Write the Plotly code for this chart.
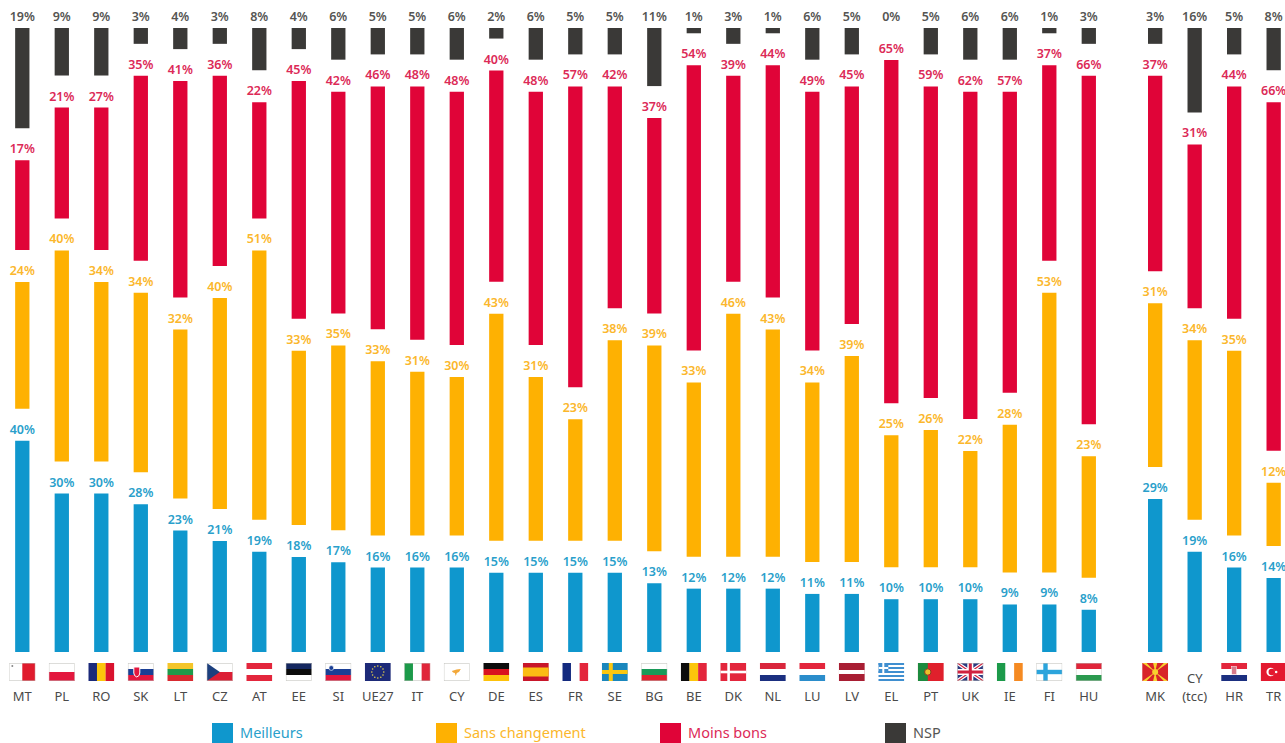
import base64
import math

import numpy as np
import plotly.graph_objects as go

countries = ["MT", "PL", "RO", "SK", "LT", "CZ", "AT", "EE", "SI", "UE27", "IT", "CY", "DE", "ES", "FR", "SE",
             "BG", "BE", "DK", "NL", "LU", "LV", "EL", "PT", "UK", "IE", "FI", "HU",
             "MK", "(tcc)", "HR", "TR"]
meilleurs = [40, 30, 30, 28, 23, 21, 19, 18, 17, 16, 16, 16, 15, 15, 15, 15,
             13, 12, 12, 12, 11, 11, 10, 10, 10, 9, 9, 8,
             29, 19, 16, 14]
sans_changement = [24, 40, 34, 34, 32, 40, 51, 33, 35, 33, 31, 30, 43, 31, 23, 38,
                   39, 33, 46, 43, 34, 39, 25, 26, 22, 28, 53, 23,
                   31, 34, 35, 12]
moins_bons = [17, 21, 27, 35, 41, 36, 22, 45, 42, 46, 48, 48, 40, 48, 57, 42,
              37, 54, 39, 44, 49, 45, 65, 59, 62, 57, 37, 66,
              37, 31, 44, 66]
nsp = [19, 9, 9, 3, 4, 3, 8, 4, 6, 5, 5, 6, 2, 6, 5, 5,
       11, 1, 3, 1, 6, 5, 0, 5, 6, 6, 1, 3,
       3, 16, 5, 8]

series_names = ["Meilleurs", "Sans changement", "Moins bons", "NSP"]
series_values = [meilleurs, sans_changement, moins_bons, nsp]
bar_colors = ["#0f97cd", "#feb102", "#e00438", "#3a3937"]
label_colors = ["#2a9fcb", "#fbb72c", "#dc2a57", "#555553"]

W, H = 1285, 743
PX_PER_PCT = 5.28
PX_PER_SLOT = 39.5
ZERO_PX = 652
FIRST_PX = 22.3
GAP = 32 / PX_PER_PCT  # white space between two segments of a column
N_EU = 28  # the candidate countries stand a bit apart

x = [i + (0.68 if i >= N_EU else 0) for i in range(len(countries))]


def stripes_h(*cols):
    n = len(cols)
    return "".join(f'<rect y="{i * 18 / n}" width="26" height="{18 / n + 0.1}" fill="{c}"/>' for i, c in enumerate(cols))


def stripes_v(*cols):
    n = len(cols)
    return "".join(f'<rect x="{i * 26 / n}" width="{26 / n + 0.1}" height="18" fill="{c}"/>' for i, c in enumerate(cols))


def cross(bg, fg, w=4):
    return (f'<rect width="26" height="18" fill="{bg}"/><rect x="7" width="{w}" height="18" fill="{fg}"/>'
            f'<rect y="{9 - w / 2}" width="26" height="{w}" fill="{fg}"/>')


def eu_stars():
    s = '<rect width="26" height="18" fill="#1d2a78"/>'
    for k in range(12):
        a = k * math.pi / 6
        s += f'<circle cx="{13 + 6 * math.cos(a):.1f}" cy="{9 + 6 * math.sin(a):.1f}" r="0.8" fill="#e8d44a"/>'
    return s


def mk_sun():
    s = '<rect width="26" height="18" fill="#d8232a"/>'
    for px, py in [(13, -2), (13, 20), (-2, 9), (28, 9), (0, -2), (26, -2), (0, 20), (26, 20)]:
        s += f'<path d="M13 9 L{px - 2.5} {py} L{px + 2.5} {py} Z" fill="#f8d12e"/>'
    return s + '<circle cx="13" cy="9" r="3" fill="#f8d12e"/>'


greek = "".join(f'<rect y="{i * 2}" width="26" height="2" fill="{"#3f8fd0" if i % 2 == 0 else "#ffffff"}"/>' for i in range(9))
greek += '<rect width="10" height="10" fill="#3f8fd0"/><rect x="4" width="2" height="10" fill="#fff"/><rect y="4" width="10" height="2" fill="#fff"/>'

union_jack = ('<rect width="26" height="18" fill="#2b3a80"/>'
              '<path d="M0 0L26 18M26 0L0 18" stroke="#fff" stroke-width="3.6"/>'
              '<path d="M0 0L26 18M26 0L0 18" stroke="#d0213f" stroke-width="1.2"/>'
              '<rect x="10" width="6" height="18" fill="#fff"/><rect y="6" width="26" height="6" fill="#fff"/>'
              '<rect x="11.5" width="3" height="18" fill="#d0213f"/><rect y="7.5" width="26" height="3" fill="#d0213f"/>')

flags = {
    "MT": stripes_v("#ffffff", "#e01b2d") + '<circle cx="3" cy="3" r="1" fill="#888"/>',
    "PL": stripes_h("#ffffff", "#e3173e"),
    "RO": stripes_v("#1b2a7a", "#fcc60b", "#d9122e"),
    "SK": stripes_h("#ffffff", "#1b3f95", "#e3173e") + '<path d="M6 4h6v6q0 3-3 4q-3-1-3-4z" fill="#e3173e" stroke="#fff"/>',
    "LT": stripes_h("#f4c52a", "#1f9a4a", "#d82a30"),
    "CZ": stripes_h("#ffffff", "#dc1e35") + '<path d="M0 0L13 9L0 18Z" fill="#1c3f7e"/>',
    "AT": stripes_h("#e3263c", "#ffffff", "#e3263c"),
    "EE": stripes_h("#14275f", "#0c0c0c", "#ffffff"),
    "SI": stripes_h("#ffffff", "#1b3f95", "#e3173e") + '<circle cx="6" cy="5" r="2.4" fill="#1b3f95" stroke="#fff" stroke-width="0.6"/>',
    "UE27": eu_stars(),
    "IT": stripes_v("#1c9a4a", "#ffffff", "#e0253a"),
    "CY": '<rect width="26" height="18" fill="#fff"/><path d="M8 8q5-2 9-2q-1 3-4 4l-1 3l-1-3q-2 0-3-2z" fill="#f2a83a"/>',
    "DE": stripes_h("#0c0c0c", "#d9121f", "#fdc20a"),
    "ES": '<rect width="26" height="18" fill="#c8162a"/><rect y="4.5" width="26" height="9" fill="#fbbd14"/>',
    "FR": stripes_v("#132a7f", "#ffffff", "#e3263c"),
    "SE": cross("#1a87bd", "#fbc710"),
    "BG": stripes_h("#ffffff", "#199a58", "#e0212f"),
    "BE": stripes_v("#0c0c0c", "#fcc60b", "#e3263c"),
    "DK": cross("#e3263c", "#ffffff", 2.6),
    "NL": stripes_h("#d9263c", "#ffffff", "#1b2f80"),
    "LU": stripes_h("#e3263c", "#ffffff", "#2b8dcb"),
    "LV": '<rect width="26" height="18" fill="#a81e33"/><rect y="7" width="26" height="4" fill="#fff"/>',
    "EL": greek,
    "PT": '<rect width="26" height="18" fill="#e0202c"/><rect width="10" height="18" fill="#1c8a3e"/><circle cx="10" cy="9" r="3.2" fill="#e8c12a" stroke="#8a3a20"/>',
    "UK": union_jack,
    "IE": stripes_v("#1c9a4a", "#ffffff", "#f58a22"),
    "FI": cross("#ffffff", "#2ba4dc", 4.4),
    "HU": stripes_h("#e0253a", "#ffffff", "#2b9a4f"),
    "MK": mk_sun(),
    "(tcc)": None,
    "HR": stripes_h("#e3263c", "#ffffff", "#1b2f80") + '<rect x="10.5" y="3.5" width="5" height="8" fill="#d67a8a" stroke="#fff" stroke-width="0.5"/>',
    "TR": '<rect width="26" height="18" fill="#e3192f"/><circle cx="10" cy="9" r="4.2" fill="#fff"/><circle cx="11.2" cy="9" r="3.3" fill="#e3192f"/><circle cx="15.5" cy="9" r="1.3" fill="#fff"/>',
}
bordered = ["MT", "PL", "SK", "CZ", "EE", "SI", "CY", "BG", "FI", "IT", "HU", "UK"]


def flag_uri(code):
    edge = '<rect x="0.25" y="0.25" width="25.5" height="17.5" fill="none" stroke="#bbbbb5" stroke-width="0.5"/>' if code in bordered else ""
    svg = f'<svg xmlns="http://www.w3.org/2000/svg" viewBox="0 0 26 18" width="26" height="18">{flags[code]}{edge}</svg>'
    return "data:image/svg+xml;base64," + base64.b64encode(svg.encode()).decode()


fig = go.Figure()

base = np.zeros(len(countries))
for name, vals, col, lab in zip(series_names, series_values, bar_colors, label_colors):
    fig.add_trace(go.Bar(
        x=x, y=vals, base=base, name=name,
        width=14.3 / PX_PER_SLOT,
        marker=dict(color=col, line=dict(width=0)),
        text=[f"{v}%" for v in vals],
        textposition="outside",
        textangle=0,
        constraintext="none",
        cliponaxis=False,
        textfont=dict(family="Noto Sans", size=12.5, weight=600, color=lab),
    ))
    base = base + np.array(vals) + GAP

images = []
for pos, code in zip(x, countries):
    if flags[code] is None:
        continue
    images.append(dict(source=flag_uri(code), xref="x", yref="paper", x=pos, y=1 - 663 / H,
                       sizex=26 / PX_PER_SLOT, sizey=18 / H, xanchor="center", yanchor="top",
                       sizing="stretch", layer="above"))

shapes = []
annotations = [dict(text="CY", xref="x", yref="paper", x=x[countries.index("(tcc)")], y=1 - 678 / H,
                    yanchor="middle", showarrow=False, font=dict(family="Noto Sans", size=13, color="#4a4a4a"))]
legend_px = [212, 436, 660, 885]
for left, name, col, lab in zip(legend_px, series_names, bar_colors, label_colors):
    shapes.append(dict(type="rect", xref="paper", yref="paper", x0=left / W, x1=(left + 21) / W,
                       y0=0, y1=1 - 723 / H, fillcolor=col, line=dict(width=0)))
    annotations.append(dict(text=name, xref="paper", yref="paper", x=(left + 26) / W, y=1 - 732 / H,
                            xanchor="left", yanchor="middle", showarrow=False,
                            font=dict(family="Noto Sans", size=14.5, color="#555553" if name == "NSP" else lab)))

fig.update_layout(
    width=W, height=H,
    barmode="overlay",
    showlegend=False,
    paper_bgcolor="white",
    plot_bgcolor="white",
    margin=dict(l=0, r=0, t=0, b=0),
    xaxis=dict(range=[-FIRST_PX / PX_PER_SLOT, (W - FIRST_PX) / PX_PER_SLOT],
               tickvals=x, ticktext=countries, tickangle=0,
               anchor="free", position=1 - 687 / H,
               showgrid=False, zeroline=False, showline=False, ticks="",
               tickfont=dict(family="Noto Sans", size=13, color="#4a4a4a")),
    yaxis=dict(range=[-(H - ZERO_PX) / PX_PER_PCT, ZERO_PX / PX_PER_PCT], visible=False),
    images=images,
    shapes=shapes,
    annotations=annotations,
)

fig.write_html("out.html", config=dict(displayModeBar=False), post_script="document.body.style.margin='0';")
